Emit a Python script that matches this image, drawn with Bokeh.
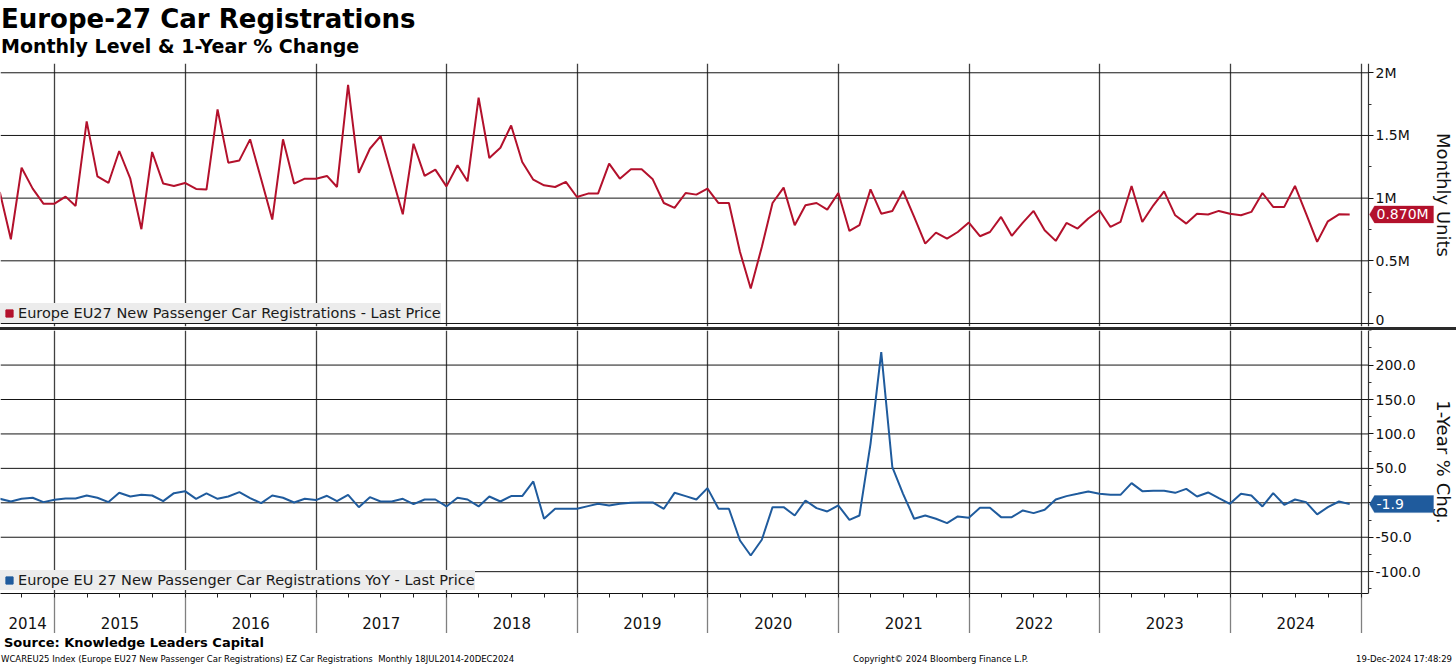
import pandas as pd
from bokeh.plotting import figure
from bokeh.models import (Range1d, LinearAxis, FixedTicker, Grid, Legend, LegendItem,
                          Label, Div, CustomJSTickFormatter, NumeralTickFormatter,
                          PolyAnnotation)
from bokeh.layouts import column
from bokeh.embed import file_html
from bokeh.resources import INLINE

FONT = "DejaVu Sans"
RED = "#b3112c"
BLUE = "#1f5b9d"

# ---------------- data (monthly, Jul-2014 .. Nov-2024, plotted at month end) -------------
first_month = "2014-07-01"
n_months = 125

# Europe EU27 new passenger car registrations, millions of units
registrations_m = [
    1.049, 0.672, 1.243, 1.076, 0.956, 0.956,                                          # 2014 Jul-Dec
    1.012, 0.938, 1.612, 1.174, 1.121, 1.376, 1.155, 0.752, 1.368, 1.116, 1.097, 1.121,  # 2015
    1.073, 1.068, 1.708, 1.283, 1.301, 1.469, 1.150, 0.829, 1.469, 1.116, 1.155, 1.155,  # 2016
    1.177, 1.089, 1.904, 1.201, 1.394, 1.495, 1.182, 0.871, 1.434, 1.177, 1.227, 1.094,  # 2017
    1.262, 1.134, 1.801, 1.320, 1.402, 1.580, 1.288, 1.147, 1.102, 1.089, 1.129, 1.009,  # 2018
    1.036, 1.036, 1.275, 1.155, 1.230, 1.230, 1.150, 0.961, 0.922, 1.041, 1.028, 1.076,  # 2019
    0.961, 0.961, 0.571, 0.279, 0.611, 0.961, 1.084, 0.784, 0.943, 0.961, 0.908, 1.041,  # 2020
    0.738, 0.784, 1.070, 0.876, 0.898, 1.057, 0.850, 0.637, 0.725, 0.677, 0.730, 0.805,  # 2021
    0.696, 0.730, 0.850, 0.699, 0.805, 0.898, 0.744, 0.659, 0.802, 0.757, 0.837, 0.903,  # 2022
    0.770, 0.810, 1.097, 0.810, 0.943, 1.054, 0.863, 0.797, 0.876, 0.869, 0.898, 0.876,  # 2023
    0.863, 0.890, 1.041, 0.930, 0.930, 1.097, 0.876, 0.651, 0.815, 0.871, 0.870,         # 2024 Jan-Nov
]

# 1-year % change
yoy_pct = [
    5.8, 1.9, 5.8, 7.3, 1.0, 4.4,
    6.3, 6.3, 10.6, 7.3, 1.0, 14.5, 9.2, 11.6, 10.6, 2.4, 14.0, 16.9,
    5.8, 13.6, 5.8, 9.2, 15.5, 6.8, -0.5, 10.6, 7.3, 0.5, 5.8, 3.9,
    10.2, 2.4, 11.6, -6.3, 8.2, 1.9, 1.9, 5.8, -1.9, 4.8, 4.8, -5.3,
    7.3, 4.8, -5.3, 9.2, 1.9, 9.7, 9.7, 31.0, -23.2, -8.7, -8.7, -8.7,
    -4.8, -1.5, -3.9, -1.5, 0.0, 0.5, 0.5, -8.7, 14.5, 9.7, 4.8, 21.3,
    -8.7, -8.7, -54.7, -76.5, -53.7, -6.3, -6.3, -18.4, 3.4, -7.7, -12.6, -3.9,
    -24.7, -18.4, 85.7, 218.8, 51.8, 13.1, -23.2, -18.4, -23.2, -29.5, -19.8, -21.8,
    -7.3, -7.3, -20.8, -20.8, -11.1, -15.0, -10.2, 4.8, 9.7, 13.1, 16.5, 13.1,
    11.6, 11.6, 28.6, 16.9, 17.4, 17.4, 14.5, 20.3, 9.2, 15.0, 6.8, -1.5,
    13.1, 10.6, -5.3, 14.0, -2.9, 4.8, 1.0, -16.9, -6.3, 1.9, -1.9,
]

level_ticks = [0, 0.5, 1, 1.5, 2]
level_minor = [0.25, 0.75, 1.25, 1.75]
yoy_ticks = [-100, -50, 0, 50, 100, 150, 200]
yoy_minor = [-125, -75, -25, 25, 75, 125, 175, 225, 250]
grid_years = list(range(2015, 2026))
label_years = list(range(2015, 2025))

level_legend = "Europe EU27 New Passenger Car Registrations - Last Price"
yoy_legend = "Europe EU 27 New Passenger Car Registrations YoY - Last Price"


def to_ms(t):
    return pd.Timestamp(t).value / 1e6


dates = pd.date_range(first_month, periods=n_months, freq="MS") + pd.offsets.MonthEnd(0)
xs = [to_ms(d) for d in dates]

PAGE_W = 1456          # whole frame width (axis drawn inside it)
AXIS_PX = 1368         # where the value axis sits inside the frame
H = 263                # panel height

x_start = to_ms("2014-08-02")
x_axis = to_ms("2025-01-21 14:00")
x_end = x_start + (x_axis - x_start) * PAGE_W / AXIS_PX
year_ticks = [to_ms(f"{y}-01-01") for y in grid_years]
quarter_ticks = [to_ms(t) for t in pd.date_range("2014-10-01", "2025-01-01", freq="QS")]
label_ticks = [(x_start + year_ticks[0]) / 2] + [to_ms(f"{y}-07-02") for y in label_years]

xr = Range1d(x_start, x_end)
TOP_Y = (-0.024, 2.074)
BOT_Y = (-131.7, 250.2)


def panel(yr, border_bottom):
    p = figure(frame_width=PAGE_W, frame_height=H, x_range=xr, y_range=Range1d(*yr),
               x_axis_location=None, y_axis_location="right", title=None,
               toolbar_location=None, output_backend="svg",
               min_border_left=0, min_border_right=0, min_border_top=0,
               min_border_bottom=border_bottom, outline_line_color=None,
               background_fill_color="white", border_fill_color="white")
    for g in p.xgrid:
        g.visible = False
    for g in p.ygrid:
        g.visible = False
    p.add_layout(Grid(dimension=0, ticker=FixedTicker(ticks=year_ticks),
                      grid_line_color="#404040", grid_line_width=1.3))
    return p


def style_yaxis(p, ticks, minor, formatter, label, label_standoff):
    # horizontal grid lines, ending at the value axis
    p.segment(x0=[x_start] * len(ticks), y0=ticks, x1=[x_axis] * len(ticks), y1=ticks,
              line_color="#151515", line_width=1)
    ax = p.yaxis[0]
    ax.fixed_location = x_axis
    ax.ticker = FixedTicker(ticks=ticks, minor_ticks=minor)
    ax.formatter = formatter
    ax.major_label_text_font = FONT
    ax.major_label_text_font_size = "14px"
    ax.major_label_text_color = "#111111"
    ax.major_label_standoff = 2
    ax.major_tick_out = 5
    ax.major_tick_in = 0
    ax.minor_tick_out = 3
    ax.minor_tick_in = 0
    ax.major_tick_line_color = "#111111"
    ax.minor_tick_line_color = "#333333"
    ax.axis_line_color = "#333333"
    ax.axis_line_width = 1.2
    ax.axis_label = label
    ax.axis_label_text_font = FONT
    ax.axis_label_text_font_size = "18px"
    ax.axis_label_text_font_style = "normal"
    ax.axis_label_text_color = "#111111"
    ax.axis_label_standoff = label_standoff


def add_legend(p, label, color, anchor_x, anchor_y):
    sq = p.scatter([anchor_x], [anchor_y], marker="square", color=color, visible=False)
    lg = Legend(items=[LegendItem(label=label, renderers=[sq])], location=(0, 3),
                margin=0, padding=5, spacing=0, glyph_width=18, glyph_height=20,
                label_standoff=0, label_text_font=FONT, label_text_font_size="14.5px",
                label_text_color="#1a1a1a", background_fill_color="#ececec",
                background_fill_alpha=1.0, border_line_color=None)
    p.add_layout(lg)


def add_tag(p, v, text, color, yr):
    mpp = (x_end - x_start) / PAGE_W
    upp = (yr[1] - yr[0]) / H
    hx = [x_axis + k * mpp for k in (1, 6, 65, 65, 6)]
    hy = [v + k * upp for k in (0, 8.5, 8.5, -8.5, -8.5)]
    p.add_layout(PolyAnnotation(xs=hx, ys=hy, fill_color=color, fill_alpha=1.0,
                                line_color=color, line_width=1))
    p.add_layout(Label(x=x_axis, y=v, x_offset=8, text=text, text_color="white",
                       text_font=FONT, text_font_size="14px", text_baseline="middle",
                       text_align="left"))


# ---------------- top panel: monthly level ----------------
top = panel(TOP_Y, 1)
style_yaxis(top, level_ticks, level_minor,
            CustomJSTickFormatter(code="return tick == 0 ? '0' : tick + 'M';"),
            "Monthly Units", 20)
top.line(xs, registrations_m, line_color=RED, line_width=2)
add_legend(top, level_legend, RED, xs[-1], registrations_m[-1])
add_tag(top, registrations_m[-1], f"{registrations_m[-1]:.3f}M", RED, TOP_Y)

# ---------------- bottom panel: 1-year % change ----------------
bot = panel(BOT_Y, 0)
style_yaxis(bot, yoy_ticks, yoy_minor, NumeralTickFormatter(format="0.0"),
            "1-Year % Chg.", 9)
bot.line(xs, yoy_pct, line_color=BLUE, line_width=2)
add_legend(bot, yoy_legend, BLUE, xs[-1], yoy_pct[-1])
add_tag(bot, yoy_pct[-1], f"{yoy_pct[-1]:.1f}", BLUE, BOT_Y)

year_axis = LinearAxis(ticker=FixedTicker(ticks=year_ticks, minor_ticks=quarter_ticks),
                       bounds=(x_start, x_axis),
                       major_tick_out=40, major_tick_in=0, major_tick_line_color="#808080",
                       major_tick_line_width=1.3, minor_tick_out=4, minor_tick_in=0,
                       minor_tick_line_color="#222222", axis_line_color="#111111",
                       axis_line_width=1.2, major_label_text_font_size="0px",
                       major_label_text_color=None, major_label_standoff=0)
label_axis = LinearAxis(ticker=FixedTicker(ticks=label_ticks, minor_ticks=[]),
                        formatter=CustomJSTickFormatter(
                            code="return String(new Date(tick).getUTCFullYear());"),
                        axis_line_color=None, major_tick_line_color=None,
                        minor_tick_line_color=None, major_tick_out=0, minor_tick_out=0,
                        major_label_standoff=-17, major_label_text_font=FONT,
                        major_label_text_font_size="15px", major_label_text_color="#111111")
bot.add_layout(year_axis, "below")
bot.add_layout(label_axis, "below")

# ---------------- text blocks ----------------
header = Div(width=PAGE_W, height=63, margin=0, text=(
    f'<div style="position:relative;width:{PAGE_W}px;height:63px;font-family:\'{FONT}\';color:#000;">'
    '<div style="position:absolute;left:1px;top:4px;font-size:26px;font-weight:bold;'
    'line-height:30px;white-space:nowrap;">Europe-27 Car Registrations</div>'
    '<div style="position:absolute;left:1px;top:35px;font-size:19px;font-weight:bold;'
    'line-height:22px;white-space:nowrap;">Monthly Level &amp; 1-Year % Change</div>'
    '</div>'))

separator = Div(width=PAGE_W, height=3, margin=0, text="",
                styles={"background-color": "#2a2a2a"})

footer = Div(width=PAGE_W, height=32, margin=0, text=(
    f'<div style="position:relative;width:{PAGE_W}px;height:32px;font-family:\'{FONT}\';color:#000;">'
    '<div style="position:absolute;left:4px;top:2px;font-size:13px;font-weight:bold;'
    'line-height:15px;white-space:nowrap;">Source: Knowledge Leaders Capital</div>'
    '<div style="position:absolute;left:1px;top:21px;font-size:8.5px;line-height:10px;'
    'white-space:nowrap;">WCAREU25 Index (Europe EU27 New Passenger Car Registrations) '
    'EZ Car Registrations&nbsp; Monthly 18JUL2014-20DEC2024</div>'
    '<div style="position:absolute;left:853px;top:21px;font-size:8.5px;line-height:10px;'
    'white-space:nowrap;">Copyright&copy; 2024 Bloomberg Finance L.P.</div>'
    '<div style="position:absolute;right:4px;top:21px;font-size:8.5px;line-height:10px;'
    'white-space:nowrap;">19-Dec-2024 17:48:29</div>'
    '</div>'))

layout = column(header, top, separator, bot, footer, spacing=0)

with open("out.html", "w", encoding="utf-8") as f:
    f.write(file_html(layout, INLINE))
